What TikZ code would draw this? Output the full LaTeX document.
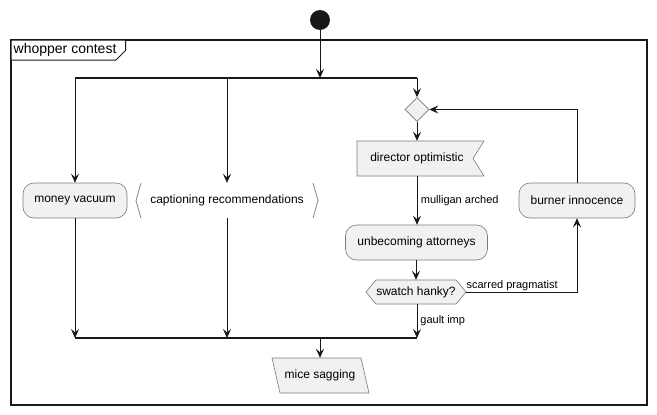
\documentclass[tikz,border=0pt]{standalone}
\usepackage{fontspec}
\setmainfont{Liberation Sans}
\usetikzlibrary{arrows.meta,shapes.geometric}
\definecolor{fillc}{HTML}{F1F1F1}
\definecolor{linec}{HTML}{181818}
\definecolor{edgec}{HTML}{7A7A7A}
\begin{document}
\begin{tikzpicture}[x=1pt,y=-1pt,
  txt/.style={font=\fontsize{12}{14}\selectfont},
  act/.style={txt, draw=edgec, line width=0.6pt, fill=fillc, rounded corners=11pt, minimum height=35pt, inner sep=0pt},
  ghost/.style={txt, inner sep=0pt, minimum height=35pt},
  shapeline/.style={draw=edgec, line width=0.6pt, fill=fillc},
  flow/.style={draw=linec, line width=0.8pt, -{Stealth[length=9pt,width=8pt,inset=3.5pt]}},
  bar/.style={draw=linec, line width=1.8pt},
  lbl/.style={font=\fontsize{11}{13}\selectfont, inner sep=0pt, anchor=west}
]
\useasboundingbox (0,0) rectangle (657,415);

% frame
\draw[linec, line width=1.4pt] (11,40) rectangle (647,405);
\draw[linec, line width=1pt, fill=white] (11,40) -- (11,60) -- (116,60) -- (125.5,50.5) -- (125.5,40) -- cycle;
\node[font=\fontsize{14}{16}\selectfont, inner sep=0pt, anchor=west] (title) at (13.5,50) {whopper contest};

% start
\node[circle, fill=linec, minimum size=20pt, inner sep=0pt] (start) at (320,20) {};

% fork and join bars
\coordinate (forkL) at (75,78);
\coordinate (forkR) at (417,78);
\coordinate (forkM) at (320,78);
\coordinate (forkC) at (227,78);
\coordinate (joinL) at (75,338);
\coordinate (joinR) at (417,338);
\coordinate (joinM) at (320,338);
\coordinate (joinC) at (227,338);
\draw[bar] (forkL) -- (forkR);
\draw[bar] (joinL) -- (joinR);

% left branches
\node[act, minimum width=104pt] (money) at (75,200.5) {money vacuum};
\draw[draw=edgec, line width=0.7pt] (141,183) -- (136,200.5) -- (141,218);
\draw[draw=edgec, line width=0.7pt] (313,183) -- (318,200.5) -- (313,218);
\node[ghost, minimum width=182pt] (cap) at (227,200.5) {captioning recommendations};

% right branch
\node[diamond, shapeline, minimum width=24pt, minimum height=24pt, inner sep=0pt] (merge) at (417,109.5) {};
\path[shapeline] (357,141) -- (484,141) -- (473,158.5) -- (484,176) -- (357,176) -- cycle;
\node[ghost, minimum width=10pt] (dir) at (417,158.5) {director optimistic};
\node[act, minimum width=142pt] (unbec) at (416.5,242.5) {unbecoming attorneys};
\path[shapeline] (366,292) -- (376,280) -- (456,280) -- (466,292) -- (456,304) -- (376,304) -- cycle;
\node[ghost, minimum width=100pt, minimum height=24pt] (hanky) at (416,292) {swatch hanky?};
\node[act, minimum width=116pt] (burner) at (577,200.5) {burner innocence};

% end
\path[shapeline] (272,358) -- (361,358) -- (369,393) -- (280,393) -- cycle;
\node[ghost, minimum width=80pt] (mice) at (320,375.5) {mice sagging};

% connectors
\draw[flow] (start) -- (forkM);
\draw[flow] (forkL) -- (money.north);
\draw[flow] (forkC) -- (cap.north);
\draw[flow] (forkR) -- (merge.north);
\draw[flow] (merge.south) -- (dir.north);
\draw[flow] (dir.south) -- (unbec.north -| dir.south) node[lbl, pos=0.5, xshift=3.5pt] {mulligan arched};
\draw[flow] (unbec.south -| hanky.north) -- (hanky.north);
\draw[flow] (hanky.south -| joinR) -- (joinR) node[lbl, pos=0.5, xshift=3pt] {gault imp};
\draw[flow] (hanky.east) -- (burner.south |- hanky.east) node[lbl, pos=0, anchor=south west, yshift=0.5pt, xshift=0pt] {scarred pragmatist} -- (burner.south);
\draw[flow] (burner.north) -- (burner.north |- merge.east) -- (merge.east);
\draw[flow] (money.south) -- (joinL);
\draw[flow] (cap.south) -- (joinC);
\draw[flow] (joinM) -- (mice.north);
\end{tikzpicture}
\end{document}
